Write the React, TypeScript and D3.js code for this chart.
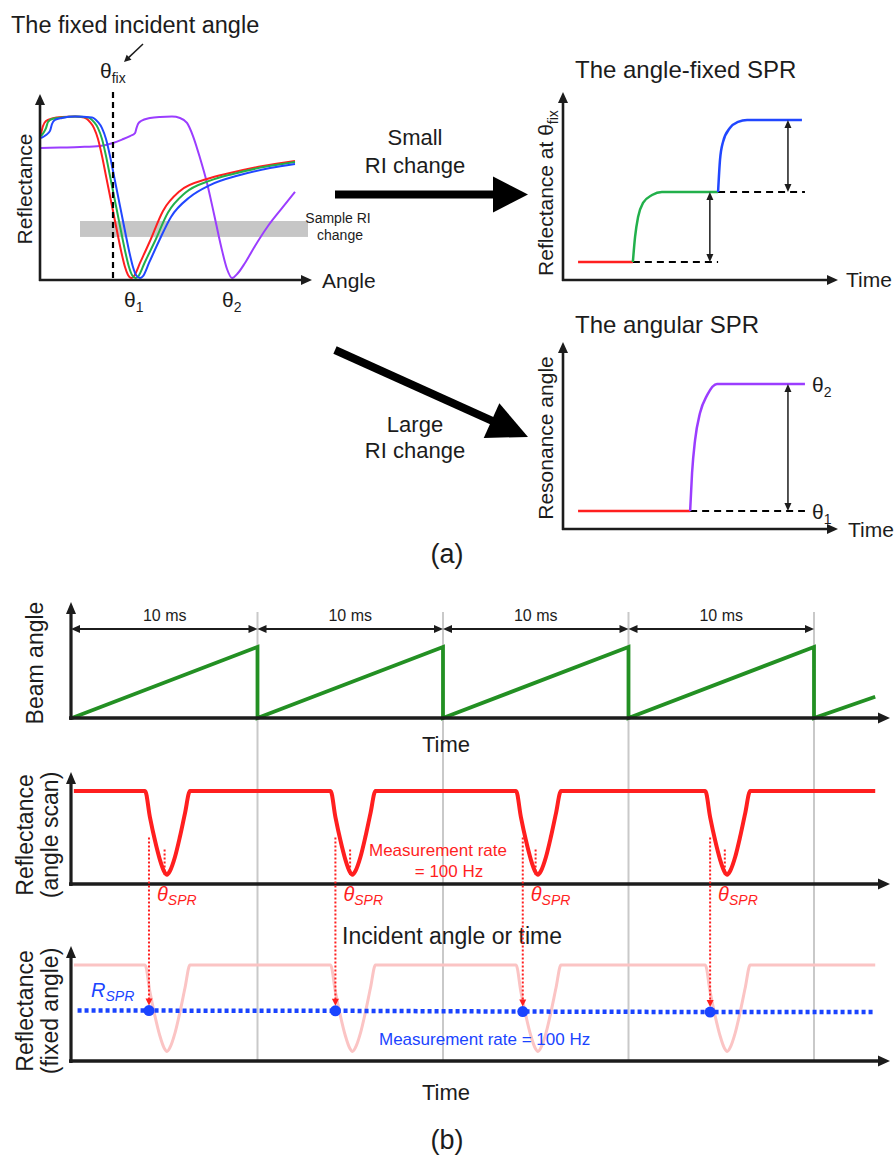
import React from "react";
import * as d3 from "d3";

const FONT = "'Liberation Sans', Arial, Helvetica, sans-serif";
const INK = "#1c1c1c";

// ---------- Panel (a), left: reflectance vs angle ----------
const redCurve: [number, number][] = [
  [0.1, 81.4], [0.3, 85.9], [0.6, 88.7], [1.2, 90.1], [2.2, 91.0], [3.5, 91.2], [4.4, 90.7], [5.0, 88.1],
  [5.4, 84.7], [5.8, 78.5], [6.2, 68.9], [6.6, 57.6], [7.0, 46.3], [7.4, 35.0], [7.8, 23.7], [8.2, 13.0],
  [8.5, 6.2], [8.8, 1.7], [9.1, 0], [9.4, 1.1], [10.0, 8.5], [11.0, 20.9], [12.3, 37.9], [14.0, 49.2],
  [16.7, 55.9], [19.0, 59.3], [22.3, 63.3], [25.5, 66.1],
];
const greenCurve: [number, number][] = [
  [0.1, 80.2], [0.4, 82.5], [0.6, 84.7], [0.8, 88.1], [1.2, 89.8], [2.2, 90.7], [3.5, 91.2], [4.8, 90.7],
  [5.4, 88.1], [5.8, 84.7], [6.2, 78.5], [6.6, 68.9], [7.0, 57.6], [7.4, 46.3], [7.8, 35.0], [8.2, 23.7],
  [8.6, 13.0], [8.9, 6.2], [9.2, 1.7], [9.55, 0], [9.85, 1.1], [10.45, 8.5], [11.5, 20.9], [12.8, 37.0],
  [14.5, 48.0], [17.0, 55.0], [19.3, 58.8], [22.5, 62.8], [25.5, 65.5],
];
const blueCurve: [number, number][] = [
  [0.1, 79.1], [0.6, 80.8], [1.0, 83.1], [1.2, 87.0], [1.5, 89.3], [2.2, 90.4], [3.5, 91.2], [5.2, 90.7],
  [5.8, 88.1], [6.2, 84.7], [6.6, 78.5], [7.0, 68.9], [7.4, 57.6], [7.8, 46.3], [8.2, 35.0], [8.6, 23.7],
  [9.0, 13.0], [9.3, 6.2], [9.6, 1.7], [10.0, 0], [10.3, 1.1], [10.9, 8.5], [11.9, 20.9], [13.1, 34.5],
  [15.0, 45.8], [17.0, 52.5], [20.0, 58.2], [23.0, 62.1], [25.5, 64.4],
];
const purpleCurve: [number, number][] = [
  [0.1, 73.4], [2.0, 73.7], [4.0, 74.0], [6.0, 74.6], [7.3, 76.3], [8.2, 78.2], [9.0, 80.2], [9.5, 81.9],
  [9.65, 84.7], [9.8, 87.0], [10.1, 88.7], [11.0, 90.4], [12.0, 91.0], [13.2, 91.2], [14.0, 90.4],
  [14.7, 87.6], [15.3, 80.2], [16.0, 67.8], [16.7, 53.7], [17.4, 36.2], [18.1, 18.1], [18.7, 5.1],
  [19.2, 0], [19.8, 2.8], [20.5, 8.5], [21.5, 18.1], [22.8, 29.4], [24.2, 39.5], [25.5, 48.6],
];
const sampleBandAngles = [4.0, 26.8];
const sampleBandReflect = [23.2, 32.2];
const fixedAngle = 7.3;
const thetaLabelAngles = [9.2, 19.0];

// ---------- Panel (a), right top: angle-fixed SPR ----------
const fixedRed: [number, number][] = [[5.5, 10], [25.5, 10]];
const fixedGreen: [number, number][] = [[25.5, 10], [26.3, 23.9], [27.4, 35], [29.2, 42.8], [32.5, 47.2], [36.1, 48.9], [56.6, 48.9]];
const fixedBlue: [number, number][] = [[56.6, 48.9], [57.3, 66.7], [58.4, 76.7], [60.9, 84.4], [63.9, 87.8], [67.2, 88.9], [87.2, 88.9]];
const fixedDashes: [number, number, number][] = [[25.5, 56.6, 10], [56.6, 88.3, 48.9]]; // from, to, level
const fixedArrows: [number, number, number][] = [[53.6, 10, 48.9], [82.1, 48.9, 88.9]]; // t, from, to

// ---------- Panel (a), right bottom: angular SPR ----------
const angRed: [number, number][] = [[5.5, 10], [46.4, 10]];
const angPurple: [number, number][] = [[46.4, 10], [47.1, 31.1], [48.2, 49.4], [50.0, 64.4], [52.6, 74.4], [56.2, 80.6], [88.3, 80.6]];
const angDash: [number, number, number] = [46.4, 88.3, 10];
const angArrow: [number, number, number] = [82.1, 10, 80.6];

// ---------- Panel (b) ----------
const periodBounds = [0, 10, 20, 30, 40];
const periodLabels = ["10 ms", "10 ms", "10 ms", "10 ms"];
const sawtooth: [number, number][] = [[0, 0], [10, 1], [10, 0], [20, 1], [20, 0], [30, 1], [30, 0], [40, 1], [40, 0], [43.3, 0.3]];
const dipShape: [number, number][] = [
  [-1.16, 1], [-0.9, 0.72], [-0.63, 0.47], [-0.36, 0.26], [-0.12, 0.13], [0.02, 0.1], [0.18, 0.14],
  [0.45, 0.29], [0.72, 0.51], [0.99, 0.76], [1.26, 1],
];
const dipMinTimes = [5.1, 15.1, 25.1, 35.3];
const thetaSprTimes = [4.15, 14.2, 24.3, 34.4];
const rSprLevels = [0.525, 0.523, 0.515, 0.51];
const scanRange = [0.1, 43.3];
const rSprLineRange = [0.3, 43.3];

// ---------- scales ----------
const angleX = d3.scaleLinear().domain([0, 27]).range([40, 310]);
const reflY = d3.scaleLinear().domain([0, 100]).range([278, 101]);
const tX = d3.scaleLinear().domain([0, 100]).range([563, 837]);
const rfY = d3.scaleLinear().domain([0, 100]).range([280, 100]);
const raY = d3.scaleLinear().domain([0, 100]).range([529, 349]);
const tB = d3.scaleLinear().domain([0, 40]).range([72, 814]);
const beamY = d3.scaleLinear().domain([0, 1]).range([718, 647]);
const scanY = d3.scaleLinear().domain([0, 1]).range([884, 791]);
const fixY = d3.scaleLinear().domain([0, 1]).range([1061, 965]);

const COLORS = {
  red: "#ff1f1f",
  green: "#22b04b",
  blue: "#2147ff",
  purple: "#9b3dff",
  saw: "#239023",
  pink: "#fbc4c4",
  grid: "#c9c9c9",
  band: "#c6c6c6",
  dotBlue: "#1a44ff",
};

function Arrow({ x1, y1, x2, y2, w = 2.5, head = 5, len = 11, color = INK, both = false }: any) {
  const ang = Math.atan2(y2 - y1, x2 - x1);
  const c = Math.cos(ang), s = Math.sin(ang);
  const tri = (tx: number, ty: number, dir: number) => {
    const bx = tx - dir * c * len, by = ty - dir * s * len;
    return `M${tx},${ty}L${bx - s * head},${by + c * head}L${bx + s * head},${by - c * head}Z`;
  };
  const lx2 = x2 - c * len * 0.8, ly2 = y2 - s * len * 0.8;
  const lx1 = both ? x1 + c * len * 0.8 : x1, ly1 = both ? y1 + s * len * 0.8 : y1;
  return (
    <g>
      <line x1={lx1} y1={ly1} x2={lx2} y2={ly2} stroke={color} strokeWidth={w} />
      <path d={tri(x2, y2, 1)} fill={color} />
      {both && <path d={tri(x1, y1, -1)} fill={color} />}
    </g>
  );
}

function BigArrow({ x1, y1, x2, y2, w = 8, head = 18, len = 36 }: any) {
  const ang = Math.atan2(y2 - y1, x2 - x1);
  const c = Math.cos(ang), s = Math.sin(ang);
  const bx = x2 - c * len, by = y2 - s * len;
  return (
    <g>
      <line x1={x1} y1={y1} x2={bx + c * 2} y2={by + s * 2} stroke="#000" strokeWidth={w} />
      <path d={`M${x2},${y2}L${bx - s * head},${by + c * head}L${bx + s * head},${by - c * head}Z`} fill="#000" />
    </g>
  );
}

export default function App() {
  const lineA = d3.line<[number, number]>().x((d) => angleX(d[0])).y((d) => reflY(d[1])).curve(d3.curveMonotoneX);
  const lineF = d3.line<[number, number]>().x((d) => tX(d[0])).y((d) => rfY(d[1])).curve(d3.curveMonotoneX);
  const lineR = d3.line<[number, number]>().x((d) => tX(d[0])).y((d) => raY(d[1])).curve(d3.curveMonotoneX);
  const lineSaw = d3.line<[number, number]>().x((d) => tB(d[0])).y((d) => beamY(d[1]));

  const scanSeries: [number, number][] = [[scanRange[0], 1]];
  dipMinTimes.forEach((tm) => dipShape.forEach(([o, v]) => scanSeries.push([tm + o, v])));
  scanSeries.push([scanRange[1], 1]);
  const lineScan = d3.line<[number, number]>().x((d) => tB(d[0])).y((d) => scanY(d[1])).curve(d3.curveMonotoneX);
  const lineFix = d3.line<[number, number]>().x((d) => tB(d[0])).y((d) => fixY(d[1])).curve(d3.curveMonotoneX);

  const rSprSeries: [number, number][] = [
    [rSprLineRange[0], rSprLevels[0]],
    ...thetaSprTimes.map((t, i) => [t, rSprLevels[i]] as [number, number]),
    [rSprLineRange[1], rSprLevels[rSprLevels.length - 1]],
  ];
  const lineRspr = d3.line<[number, number]>().x((d) => tB(d[0])).y((d) => fixY(d[1]));

  return (
    <svg
      width={894}
      height={1156}
      style={{ position: "absolute", left: 0, top: 0, background: "#fff" }}
      fontFamily={FONT}
      fill={INK}
    >
      <rect x={0} y={0} width={894} height={1156} fill="#fff" />

      {/* ================= Panel (a) left ================= */}
      <text x={11} y={33} fontSize={23.5}>The fixed incident angle</text>
      <Arrow x1={143} y1={44} x2={124} y2={62} w={1.5} head={3.5} len={7} />
      <text x={100} y={78} fontSize={21}>
        θ<tspan fontSize={14} dy={5}>fix</tspan>
      </text>

      <rect
        x={angleX(sampleBandAngles[0])}
        y={reflY(sampleBandReflect[1])}
        width={angleX(sampleBandAngles[1]) - angleX(sampleBandAngles[0])}
        height={reflY(sampleBandReflect[0]) - reflY(sampleBandReflect[1])}
        fill={COLORS.band}
      />
      <text x={338} y={223} fontSize={14} textAnchor="middle">Sample RI</text>
      <text x={340} y={240} fontSize={14} textAnchor="middle">change</text>

      <path d={lineA(purpleCurve)!} fill="none" stroke={COLORS.purple} strokeWidth={2} />
      <path d={lineA(redCurve)!} fill="none" stroke={COLORS.red} strokeWidth={2} />
      <path d={lineA(greenCurve)!} fill="none" stroke={COLORS.green} strokeWidth={2} />
      <path d={lineA(blueCurve)!} fill="none" stroke={COLORS.blue} strokeWidth={2} />

      <line x1={angleX(fixedAngle)} y1={92} x2={angleX(fixedAngle)} y2={280} stroke="#000" strokeWidth={2.2} strokeDasharray="6 4" />

      <Arrow x1={40} y1={281} x2={40} y2={94} w={2.6} />
      <Arrow x1={39} y1={280} x2={312} y2={280} w={2.6} />
      <text x={322} y={288} fontSize={21}>Angle</text>
      <text transform="translate(32,189) rotate(-90)" fontSize={21} textAnchor="middle">Reflectance</text>
      {thetaLabelAngles.map((a, i) => (
        <text key={i} x={angleX(a) - 8} y={307} fontSize={21}>
          θ<tspan fontSize={14} dy={5}>{i + 1}</tspan>
        </text>
      ))}

      {/* big arrows and labels */}
      <BigArrow x1={335} y1={194.5} x2={528} y2={194.5} w={8} head={18} len={35} />
      <text x={415} y={145} fontSize={22} textAnchor="middle">Small</text>
      <text x={415} y={173} fontSize={22} textAnchor="middle">RI change</text>
      <BigArrow x1={335} y1={350} x2={528} y2={437} w={8} head={19} len={40} />
      <text x={415} y={432} fontSize={22} textAnchor="middle">Large</text>
      <text x={415} y={458} fontSize={22} textAnchor="middle">RI change</text>

      {/* ================= Panel (a) right top ================= */}
      <text x={575} y={78} fontSize={24}>The angle-fixed SPR</text>
      {fixedDashes.map(([a, b, l], i) => (
        <line key={i} x1={tX(a)} y1={rfY(l)} x2={tX(b)} y2={rfY(l)} stroke="#000" strokeWidth={2} strokeDasharray="7 5" />
      ))}
      <path d={lineF(fixedRed)!} fill="none" stroke={COLORS.red} strokeWidth={2.5} />
      <path d={lineF(fixedGreen)!} fill="none" stroke={COLORS.green} strokeWidth={2.5} />
      <path d={lineF(fixedBlue)!} fill="none" stroke={COLORS.blue} strokeWidth={2.5} />
      {fixedArrows.map(([t, a, b], i) => (
        <Arrow key={i} x1={tX(t)} y1={rfY(a)} x2={tX(t)} y2={rfY(b)} w={1.5} head={3.5} len={8} both />
      ))}
      <Arrow x1={563} y1={281} x2={563} y2={92} w={2.6} />
      <Arrow x1={562} y1={280} x2={838} y2={280} w={2.6} />
      <text x={846} y={287} fontSize={21}>Time</text>
      <text transform="translate(553,193) rotate(-90)" fontSize={21} textAnchor="middle">
        Reflectance at θ<tspan fontSize={14} dy={5}>fix</tspan>
      </text>

      {/* ================= Panel (a) right bottom ================= */}
      <text x={575} y={333} fontSize={24}>The angular SPR</text>
      <line x1={tX(angDash[0])} y1={raY(angDash[2])} x2={tX(angDash[1])} y2={raY(angDash[2])} stroke="#000" strokeWidth={2} strokeDasharray="7 5" />
      <path d={lineR(angRed)!} fill="none" stroke={COLORS.red} strokeWidth={2.5} />
      <path d={lineR(angPurple)!} fill="none" stroke={COLORS.purple} strokeWidth={2.5} />
      <Arrow x1={tX(angArrow[0])} y1={raY(angArrow[1])} x2={tX(angArrow[0])} y2={raY(angArrow[2])} w={1.5} head={3.5} len={8} both />
      <text x={812} y={392} fontSize={21}>
        θ<tspan fontSize={14} dy={5}>2</tspan>
      </text>
      <text x={812} y={519} fontSize={21}>
        θ<tspan fontSize={14} dy={5}>1</tspan>
      </text>
      <Arrow x1={563} y1={530} x2={563} y2={342} w={2.6} />
      <Arrow x1={562} y1={529} x2={838} y2={529} w={2.6} />
      <text x={848} y={537} fontSize={21}>Time</text>
      <text transform="translate(553,438) rotate(-90)" fontSize={21} textAnchor="middle">Resonance angle</text>

      <text x={447} y={563} fontSize={27} textAnchor="middle">(a)</text>

      {/* ================= Panel (b) ================= */}
      {periodBounds.slice(1).map((t) => (
        <line key={t} x1={tB(t)} y1={612} x2={tB(t)} y2={1061} stroke={COLORS.grid} strokeWidth={2} />
      ))}

      {/* beam angle */}
      {periodLabels.map((lab, i) => (
        <g key={i}>
          <Arrow x1={i === 0 ? 71 : tB(periodBounds[i])} y1={629} x2={tB(periodBounds[i + 1])} y2={629} w={2} head={4} len={9} both />
          <text x={(tB(periodBounds[i]) + tB(periodBounds[i + 1])) / 2} y={621} fontSize={16} textAnchor="middle">{lab}</text>
        </g>
      ))}
      <path d={lineSaw(sawtooth)!} fill="none" stroke={COLORS.saw} strokeWidth={3.8} />
      <Arrow x1={71} y1={720} x2={71} y2={602} w={3.2} head={5} len={12} />
      <Arrow x1={69} y1={718} x2={890} y2={718} w={3.5} head={5.5} len={12} />
      <text transform="translate(43,663) rotate(-90)" fontSize={23} textAnchor="middle">Beam angle</text>
      <text x={446} y={752} fontSize={22} textAnchor="middle">Time</text>

      {/* reflectance angle scan */}
      <path d={lineScan(scanSeries)!} fill="none" stroke={COLORS.red} strokeWidth={4} />
      {dipMinTimes.map((t, i) => (
        <line key={i} x1={tB(t) - 2} y1={scanY(0.37)} x2={tB(t) - 2} y2={scanY(0.1)} stroke={COLORS.red} strokeWidth={2} strokeDasharray="2 2" />
      ))}
      <Arrow x1={71} y1={886} x2={71} y2={772} w={3.2} head={5} len={12} />
      <Arrow x1={69} y1={884} x2={890} y2={884} w={3.5} head={5.5} len={12} />
      <text transform="translate(33,835) rotate(-90)" fontSize={23} textAnchor="middle">Reflectance</text>
      <text transform="translate(58,835) rotate(-90)" fontSize={23} textAnchor="middle">(angle scan)</text>
      <text x={369} y={856} fontSize={17} fill={COLORS.red}>Measurement rate</text>
      <text x={449} y={877} fontSize={17} fill={COLORS.red} textAnchor="middle">= 100 Hz</text>
      {thetaSprTimes.map((t, i) => (
        <text key={i} x={tB(t) + 8} y={901} fontSize={20} fontStyle="italic" fill={COLORS.red}>
          θ<tspan fontSize={14} dy={4}>SPR</tspan>
        </text>
      ))}
      <text x={452} y={944} fontSize={23} textAnchor="middle">Incident angle or time</text>

      {/* reflectance fixed angle */}
      <path d={lineFix(scanSeries)!} fill="none" stroke={COLORS.pink} strokeWidth={3} />
      <path d={lineRspr(rSprSeries)!} fill="none" stroke={COLORS.dotBlue} strokeWidth={4.5} strokeDasharray="4 3" />
      {thetaSprTimes.map((t, i) => (
        <g key={i}>
          <line x1={tB(t)} y1={scanY(0.5)} x2={tB(t)} y2={fixY(rSprLevels[i]) - 11} stroke={COLORS.red} strokeWidth={2} strokeDasharray="2 2" />
          <path
            d={`M${tB(t)},${fixY(rSprLevels[i]) - 5}L${tB(t) - 3.5},${fixY(rSprLevels[i]) - 12}L${tB(t) + 3.5},${fixY(rSprLevels[i]) - 12}Z`}
            fill={COLORS.red}
          />
          <circle cx={tB(t)} cy={fixY(rSprLevels[i])} r={5.5} fill={COLORS.dotBlue} />
        </g>
      ))}
      <text x={91} y={997} fontSize={20} fontStyle="italic" fill={COLORS.dotBlue}>
        R<tspan fontSize={14} dy={4}>SPR</tspan>
      </text>
      <text x={379} y={1045} fontSize={17} fill={COLORS.dotBlue}>Measurement rate = 100 Hz</text>
      <Arrow x1={71} y1={1063} x2={71} y2={946} w={3.2} head={5} len={12} />
      <Arrow x1={69} y1={1061} x2={890} y2={1061} w={3.5} head={5.5} len={12} />
      <text transform="translate(33,1011) rotate(-90)" fontSize={23} textAnchor="middle">Reflectance</text>
      <text transform="translate(58,1011) rotate(-90)" fontSize={23} textAnchor="middle">(fixed angle)</text>
      <text x={446} y={1100} fontSize={22} textAnchor="middle">Time</text>

      <text x={447} y={1149} fontSize={27} textAnchor="middle">(b)</text>
    </svg>
  );
}
